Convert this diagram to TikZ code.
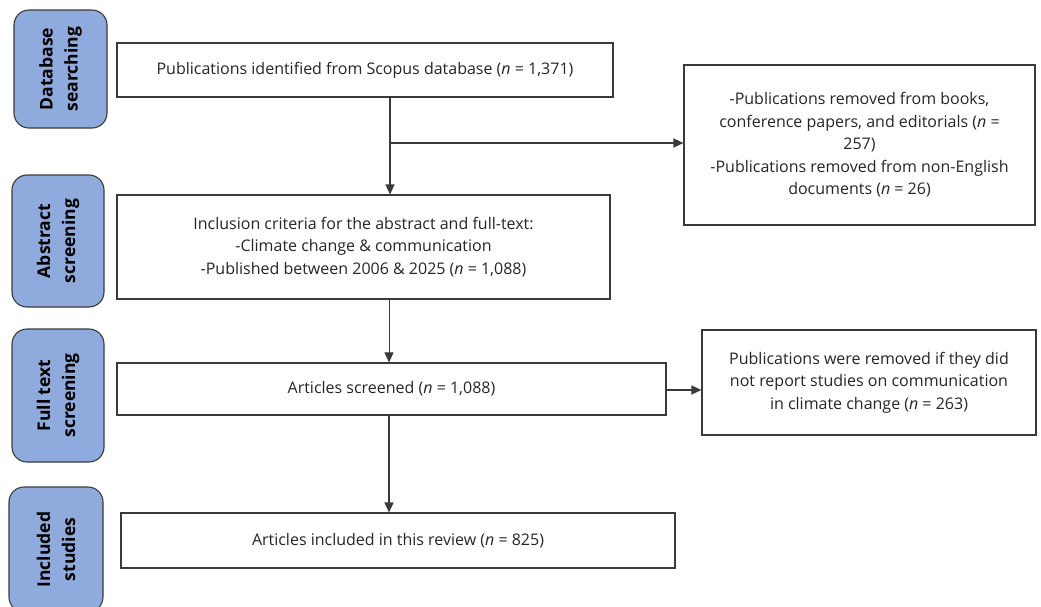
\documentclass[tikz,border=0pt]{standalone}
\usepackage{fontspec}
\setmainfont{Open Sans}
\usetikzlibrary{arrows.meta}
\definecolor{stagefill}{HTML}{8FAADC}
\definecolor{edge}{HTML}{3A3A3A}
\tikzset{
  box/.style={draw=edge, line width=1.1pt, fill=white, rectangle, align=center,
    inner sep=0pt, font=\fontsize{16}{22.5}\selectfont, text=black!85},
  stage/.style={draw=edge, line width=1.1pt, fill=stagefill, rounded corners=15pt,
    inner sep=0pt},
  stagetext/.style={rotate=90, align=center, font=\fontsize{17.5}{25}\selectfont\bfseries},
  conn/.style={draw=edge, line width=1.1pt},
  arr/.style={conn, -{Triangle[length=10pt,width=9pt]}}
}
\begin{document}
\begin{tikzpicture}[x=1pt,y=-1pt]
\useasboundingbox (0,0) rectangle (1041,606);
% stage boxes
\node[stage, minimum width=93pt, minimum height=118pt] (s1) at (60.5,69) {};
\node[stagetext] (s1t) at (s1.center) {Database\\searching};
\node[stage, minimum width=92pt, minimum height=132pt] (s2) at (58,241) {};
\node[stagetext] (s2t) at (s2.center) {Abstract\\screening};
\node[stage, minimum width=92pt, minimum height=133pt] (s3) at (58,395.5) {};
\node[stagetext] (s3t) at (s3.center) {Full text\\screening};
\node[stage, minimum width=94pt, minimum height=125pt] (s4) at (56,549.5) {};
\node[stagetext] (s4t) at (s4.center) {Included\\studies};
% main boxes
\node[box, minimum width=496pt, minimum height=54pt] (b1) at (365,70) {Publications identified from Scopus database (\textit{n} = 1,371)};
\node[box, minimum width=493pt, minimum height=104pt] (b2) at (363.5,247) {Inclusion criteria for the abstract and full-text:\\-Climate change \& communication\\-Published between 2006 \& 2025 (\textit{n} = 1,088)};
\node[box, minimum width=549pt, minimum height=52pt] (b3) at (391.5,389) {Articles screened (\textit{n} = 1,088)};
\node[box, minimum width=554pt, minimum height=55pt] (b4) at (398,540.5) {Articles included in this review (\textit{n} = 825)};
% side boxes
\node[box, minimum width=351pt, minimum height=160pt] (r1) at (859.5,145) {-Publications removed from books,\\conference papers, and editorials (\textit{n} =\\257)\\-Publications removed from non-English\\documents (\textit{n} = 26)};
\node[box, minimum width=334pt, minimum height=105pt] (r2) at (869,382.5) {Publications were removed if they did\\not report studies on communication\\in climate change (\textit{n} = 263)};
% connectors
\coordinate (br) at (390,143);
\draw[conn] (b1.south -| br) -- (br);
\draw[arr] (br) -- (b2.north -| br);
\draw[arr] (br) -- (r1.west |- br);
\draw[arr, line width=0.8pt] (b2.south -| 389,0) -- (b3.north -| 389,0);
\draw[arr] (b3.east |- 0,390) -- (r2.west |- 0,390);
\draw[arr, line width=1.6pt] (b3.south -| 389,0) -- (b4.north -| 389,0);
\end{tikzpicture}
\end{document}
